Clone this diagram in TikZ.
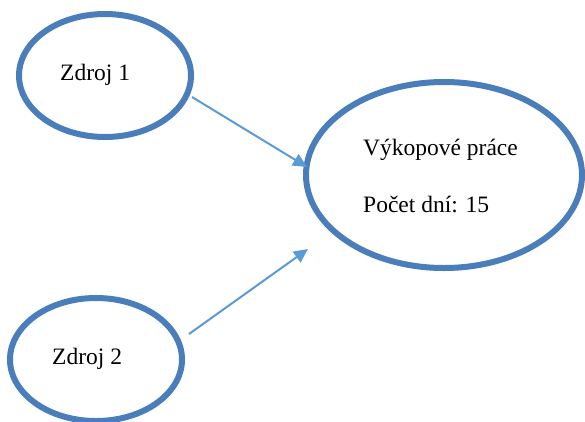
\documentclass[tikz,border=0pt]{standalone}
\usepackage{fontspec}
\setmainfont{Liberation Serif}
\usetikzlibrary{arrows.meta,shapes.geometric}
\definecolor{ellcol}{HTML}{4A7EBB}
\definecolor{arrcol}{HTML}{5B9BD5}
\begin{document}
\begin{tikzpicture}[x=1pt,y=-1pt,
  ell/.style={ellipse,draw=ellcol,line width=6pt,inner sep=0pt},
  lbl/.style={anchor=base west,inner sep=0pt,font=\fontsize{23.5}{28}\selectfont},
  conn/.style={draw=arrcol,line width=2pt,-{Triangle[length=14pt,width=13pt]}}]
\useasboundingbox (0,0) rectangle (585,421);
\node[ell,minimum width=172pt,minimum height=123pt] (z1) at (105,75.5) {};
\node[ell,minimum width=172pt,minimum height=123pt] (z2) at (96,359.5) {};
\node[ell,minimum width=276pt,minimum height=186pt] (vp) at (444,175) {};
\node[lbl] (t1) at (60,80) {Zdroj 1};
\node[lbl] (t2) at (52,364) {Zdroj 2};
\node[lbl] (t3) at (363,155) {Výkopové práce};
\node[lbl] (t4) at (363,212) {Počet dní: 15};
\coordinate (a1s) at (192,97);
\coordinate (a1e) at (307,167);
\coordinate (a2s) at (189,334);
\coordinate (a2e) at (308,249);
\draw[conn] (a1s) -- (a1e);
\draw[conn] (a2s) -- (a2e);
\end{tikzpicture}
\end{document}
